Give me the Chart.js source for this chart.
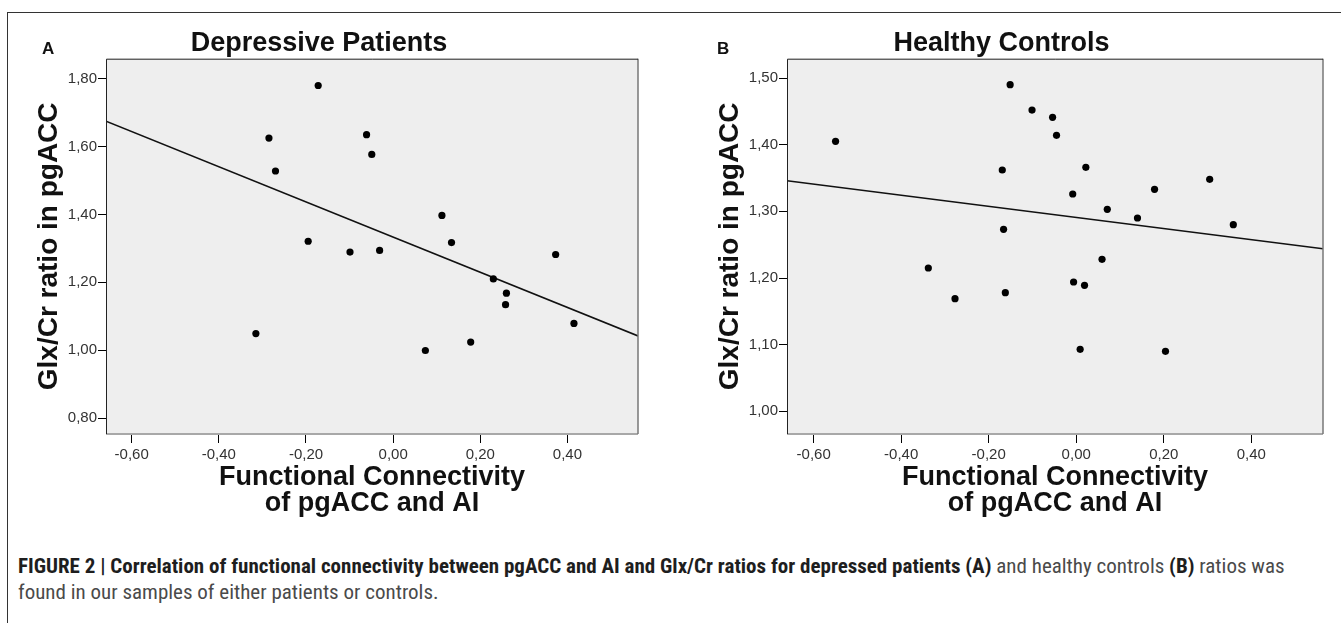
<!DOCTYPE html>
<html>
<head>
<meta charset="utf-8">
<script src="https://cdn.jsdelivr.net/npm/chart.js@4.4.1/dist/chart.umd.min.js"></script>
<style>
    body { margin: 0; background: #fff; width: 1341px; height: 623px; overflow: hidden; position: relative; font-family: "Liberation Sans", Arial, sans-serif; }
    .frame { position: absolute; left: 7px; top: 12px; right: 0; bottom: -5px; border-top: 1.5px solid #333; border-left: 1.5px solid #333; }
    .panel { position: absolute; top: 20px; height: 520px; }
    .letter { position: absolute; font-weight: bold; font-size: 17px; color: #111; }
    .caption { position: absolute; left: 18px; top: 553px; font-family: "Liberation Sans Narrow", "Roboto Condensed", "Liberation Sans", sans-serif; font-size: 21px; line-height: 26px; color: #4a4a4a; white-space: nowrap; }
    .caption b { color: #1e1e1e; }
</style>
</head>
<body>
<div class="frame"></div>
<div class="panel" style="left:0; width:656px;"><canvas id="grafico-a"></canvas></div>
<div class="panel" style="left:680px; width:661px;"><canvas id="grafico-b"></canvas></div>
<div class="letter" style="left:42px; top:39px;">A</div>
<div class="letter" style="left:717px; top:39px;">B</div>
<div class="caption">
    <b>FIGURE 2 | Correlation of functional connectivity between pgACC and AI and Glx/Cr ratios for depressed patients (A)</b> and healthy controls <b>(B)</b> ratios was<br>
    found in our samples of either patients or controls.
</div>
<script>
// Depressive patients (A)
const depX = [-0.315, -0.195, -0.099, -0.031, 0.134, 0.373, 0.230, 0.260, 0.258, 0.415, 0.074, 0.178, -0.285, -0.061, -0.270, -0.049, 0.112, -0.172];
const depY = [1.049, 1.321, 1.289, 1.294, 1.317, 1.282, 1.210, 1.168, 1.134, 1.079, 0.999, 1.024, 1.625, 1.635, 1.528, 1.577, 1.397, 1.780];
const depFitX = [-0.659, 0.562];
const depFitY = [1.675, 1.042];
const depYTicks = [0.8, 1.0, 1.2, 1.4, 1.6, 1.8];

// Healthy controls (B)
const conX = [-0.151, -0.101, -0.054, -0.550, -0.045, -0.169, 0.022, -0.008, 0.179, 0.305, 0.071, 0.140, 0.359, -0.166, -0.338, -0.277, -0.162, -0.006, 0.019, 0.059, 0.009, 0.204];
const conY = [1.490, 1.452, 1.441, 1.405, 1.414, 1.362, 1.366, 1.326, 1.333, 1.348, 1.303, 1.290, 1.280, 1.273, 1.215, 1.169, 1.178, 1.194, 1.189, 1.228, 1.093, 1.090];
const conFitX = [-0.661, 0.564];
const conFitY = [1.346, 1.244];
const conYTicks = [1.0, 1.1, 1.2, 1.3, 1.4, 1.5];

const xTicks = [-0.6, -0.4, -0.2, 0, 0.2, 0.4];

Chart.defaults.font.family = '"Liberation Sans", Arial, sans-serif';
Chart.defaults.color = "#333";

const virgula = v => v.toFixed(2).replace(".", ",");

const fundoPlot = {
    id: "fundoPlot",
    beforeDraw(chart) {
        const { ctx, chartArea: a } = chart;
        ctx.save();
        ctx.fillStyle = "#eeeeee";
        ctx.fillRect(a.left, a.top, a.width, a.height);
        ctx.restore();
    },
    afterDraw(chart) {
        const { ctx, chartArea: a } = chart;
        ctx.save();
        ctx.lineWidth = 2;
        ctx.strokeStyle = "#a8a8a8";
        ctx.beginPath();
        ctx.moveTo(a.left, a.bottom); ctx.lineTo(a.right, a.bottom);
        ctx.stroke();
        ctx.strokeStyle = "#777";
        ctx.lineWidth = 1.5;
        ctx.beginPath();
        ctx.moveTo(a.right, a.top); ctx.lineTo(a.right, a.bottom);
        ctx.stroke();
        ctx.strokeStyle = "#222";
        ctx.lineWidth = 1;
        ctx.beginPath();
        ctx.moveTo(a.left + 0.5, a.bottom); ctx.lineTo(a.left + 0.5, a.top + 0.5); ctx.lineTo(a.right, a.top + 0.5);
        ctx.stroke();
        ctx.restore();
    }
};

function criarPainel(id, titulo, xs, ys, fitX, fitY, yMin, yMax, yTicks, yWidth, yTitlePad) {
    return new Chart(document.getElementById(id), {
        type: "scatter",
        data: {
            datasets: [{
                data: xs.map((x, i) => ({ x: x, y: ys[i] })),
                backgroundColor: "#000",
                borderWidth: 0,
                pointRadius: 3.6
            }, {
                data: fitX.map((x, i) => ({ x: x, y: fitY[i] })),
                showLine: true,
                borderColor: "#111",
                borderWidth: 1.5,
                pointRadius: 0
            }]
        },
        options: {
            responsive: true,
            maintainAspectRatio: false,
            animation: false,
            layout: { padding: { left: 0, right: 656 - 638, top: 0, bottom: 0 } },
            plugins: {
                legend: { display: false },
                tooltip: { enabled: false },
                title: {
                    display: true,
                    text: titulo,
                    color: "#111",
                    font: { size: 27, weight: "bold", lineHeight: 1.1 },
                    padding: { top: 9, bottom: 0 }
                }
            },
            scales: {
                x: {
                    type: "linear",
                    min: fitX[0],
                    max: fitX[1],
                    afterBuildTicks: s => { s.ticks = xTicks.map(v => ({ value: v })); },
                    afterFit: s => { s.height = 106; },
                    ticks: { callback: virgula, font: { size: 15 }, padding: 3, maxRotation: 0, autoSkip: false },
                    grid: { drawOnChartArea: false, tickLength: 9, color: "#000" },
                    border: { display: false },
                    title: {
                        display: true,
                        text: ["Functional Connectivity", "of pgACC and AI"],
                        color: "#111",
                        font: { size: 27, weight: "bold", lineHeight: 0.95 },
                        padding: { top: 0, bottom: 24 }
                    }
                },
                y: {
                    min: yMin,
                    max: yMax,
                    afterBuildTicks: s => { s.ticks = yTicks.map(v => ({ value: v })); },
                    afterFit: s => { s.width = yWidth; },
                    ticks: { callback: virgula, font: { size: 15 }, padding: 1, autoSkip: false },
                    grid: { drawOnChartArea: false, tickLength: 8, color: "#000" },
                    border: { display: false },
                    title: {
                        display: true,
                        text: "Glx/Cr ratio in pgACC",
                        color: "#111",
                        font: { size: 28, weight: "bold", lineHeight: 1 },
                        padding: { top: yTitlePad, bottom: 0 }
                    }
                }
            }
        },
        plugins: [fundoPlot]
    });
}

criarPainel("grafico-a", "Depressive Patients", depX, depY, depFitX, depFitY, 0.753, 1.859, depYTicks, 106, 35);
criarPainel("grafico-b", "Healthy Controls", conX, conY, conFitX, conFitY, 0.966, 1.529, conYTicks, 107, 36);
</script>
</body>
</html>
